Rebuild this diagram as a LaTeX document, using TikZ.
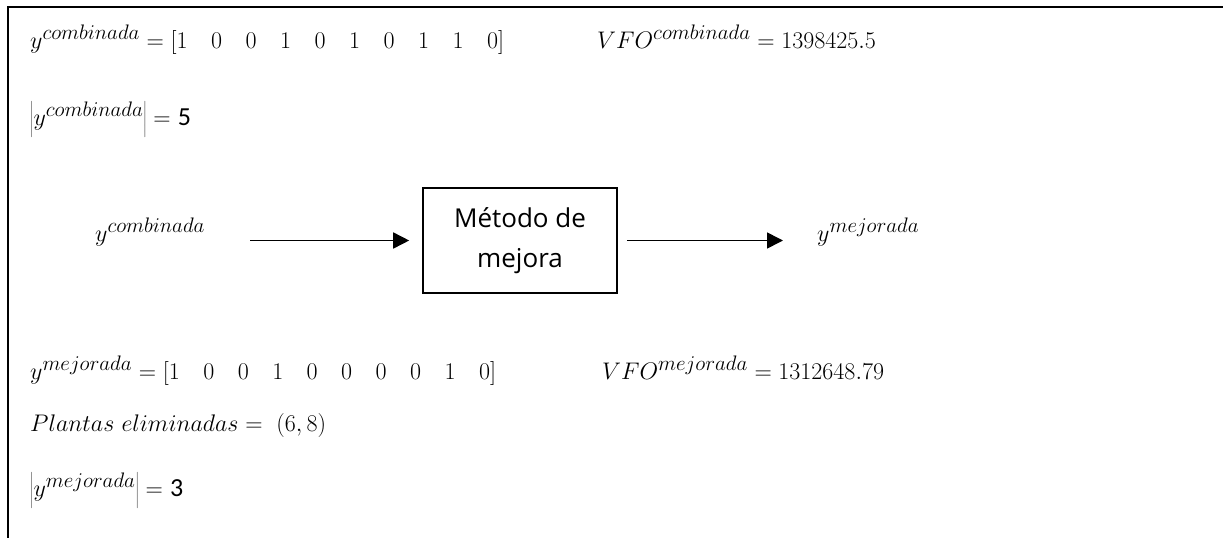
\RequirePackage{fix-cm}
\documentclass[tikz,border=0pt]{standalone}
\usepackage{fontspec}
\newfontfamily\boxfont{Open Sans}
\newfontfamily\numfont{Carlito}
\DeclareMathSizes{24}{24}{21}{16}
\newcommand{\vgap}{\hspace{23.5pt}}
\usetikzlibrary{arrows.meta}

\begin{document}
\begin{tikzpicture}[x = 1pt, y = -1pt, every node/.style = {inner sep = 0pt,
	font = \fontsize{24}{28}\selectfont}, eq/.style = {anchor = base west},
	conn/.style = {-{Triangle[length = 16pt, width = 16pt]}, line width = 1.6pt}]

		\useasboundingbox (0, 0) rectangle (1223, 538);
		\draw [line width = 2.2pt] (1223, 7) -| (8, 538);

		\node (ycomb)   at ( 30,  48) [eq] {$y^{combinada} = [1\vgap0\vgap0\vgap1\vgap0\vgap1\vgap0\vgap1\vgap1\vgap0]$};
		\node (vfocomb) at (597,  48) [eq] {$VFO^{combinada} = 1398425.5$};
		\node (ncomb)   at ( 30, 125) [eq] {$\left|y^{combinada}\right| = $ {\numfont\fontsize{26}{30}\selectfont 5}};

		\node (comb)    at ( 95, 241) [eq] {$y^{combinada}$};
		\node (metodo)  at (520, 240.5) [draw, line width = 1.6pt, minimum width = 194pt,
			minimum height = 105pt, align = center,
			font = \boxfont\fontsize{26}{40}\selectfont] {Método de\\mejora};
		\node (mejor)   at (817, 241) [eq] {$y^{mejorada}$};

		\node (ymejor)  at ( 30, 379) [eq] {$y^{mejorada} = [1\vgap0\vgap0\vgap1\vgap0\vgap0\vgap0\vgap0\vgap1\vgap0]$};
		\node (vfomejor) at (602, 379) [eq] {$VFO^{mejorada} = 1312648.79$};
		\node (plantas) at ( 30, 431) [eq] {$Plantas\ eliminadas = \ (6, 8)$};
		\node (nmejor)  at ( 30, 496) [eq] {$\left|y^{mejorada}\right| = $ {\numfont\fontsize{26}{30}\selectfont 3}};

		\draw [conn, shorten <= 45pt, shorten >= 13pt] (comb.east |- metodo.west) -- (metodo.west);
		\draw [conn, shorten <= 9pt, shorten >= 34pt] (metodo.east) -- (mejor.west |- metodo.east);

	\end{tikzpicture}
\end{document}
